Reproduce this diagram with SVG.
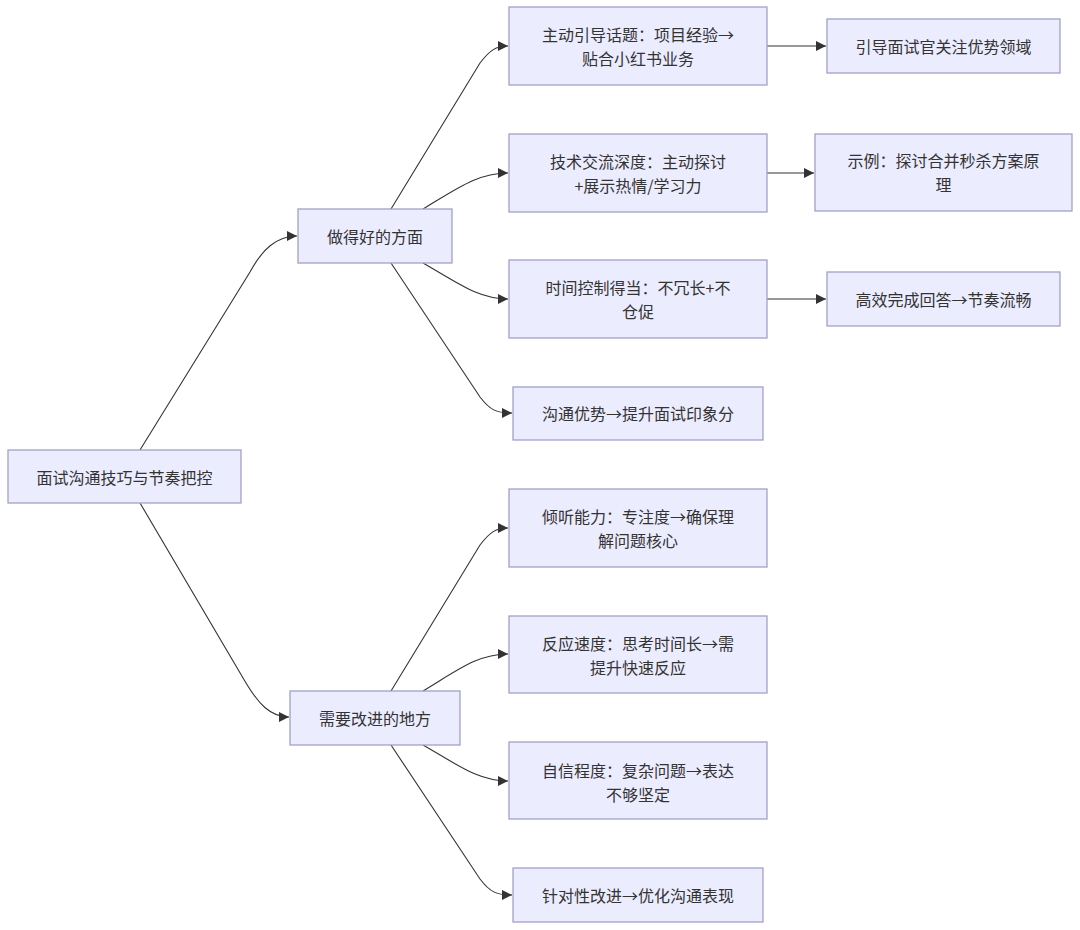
<svg xmlns="http://www.w3.org/2000/svg" width="1080" height="930" viewBox="0 0 1080 930">
<style>
.n rect{fill:#ECECFF;stroke:#a3a0c8;stroke-width:1.3}
.n text{font-family:"Noto Sans CJK SC","Noto Sans",sans-serif;font-size:16px;fill:#333;text-anchor:middle;dominant-baseline:central}
.e path{fill:none;stroke:#333;stroke-width:1.1;marker-end:url(#ah)}
</style>
<defs>
<marker id="ah" viewBox="0 0 10 10" refX="10" refY="5" markerWidth="10" markerHeight="10" markerUnits="userSpaceOnUse" orient="auto">
<path d="M0,0 L10,5 L0,10 z" fill="#333"/>
</marker>
</defs>
<rect width="1080" height="930" fill="#fff"/>
<g class="e">
<path d="M140,450 L250,272 C262,250 276,236 297,236"/>
<path d="M140,503 L246,683 C258,703 270,717 289,717"/>
<path d="M391,209 L480,63 C490,50 496,46 508,46"/>
<path d="M423,209 C458,188 478,173 508,173"/>
<path d="M423,263 C458,283 478,299 508,299"/>
<path d="M391,263 L480,397 C490,410 496,413 512,413"/>
<path d="M391,691 L480,545 C490,532 496,528 508,528"/>
<path d="M423,691 C458,670 478,654 508,654"/>
<path d="M423,745 C458,765 478,781 508,781"/>
<path d="M391,745 L480,879 C490,892 496,895 512,895"/>
<path d="M767,46 L826,46"/>
<path d="M767,173 L814,173"/>
<path d="M767,299 L826,299"/>
</g>
<g id="root" class="n"><rect x="8" y="450" width="233" height="53"/><text x="124.5" y="477">面试沟通技巧与节奏把控</text></g>
<g id="good" class="n"><rect x="298" y="209" width="154" height="54"/><text x="375" y="236">做得好的方面</text></g>
<g id="improve" class="n"><rect x="290" y="691" width="170" height="54"/><text x="375" y="718">需要改进的地方</text></g>
<g id="g1" class="n"><rect x="509" y="7" width="258" height="78"/><text x="638" y="34">主动引导话题：项目经验→</text><text x="638" y="58">贴合小红书业务</text></g>
<g id="g2" class="n"><rect x="509" y="134" width="258" height="78"/><text x="638" y="161">技术交流深度：主动探讨</text><text x="638" y="185">+展示热情/学习力</text></g>
<g id="g3" class="n"><rect x="509" y="260" width="258" height="78"/><text x="638" y="287">时间控制得当：不冗长+不</text><text x="638" y="311">仓促</text></g>
<g id="g4" class="n"><rect x="513" y="387" width="250" height="53"/><text x="638" y="413">沟通优势→提升面试印象分</text></g>
<g id="g1a" class="n"><rect x="827" y="19" width="233" height="54"/><text x="943.5" y="46">引导面试官关注优势领域</text></g>
<g id="g2a" class="n"><rect x="815" y="134" width="257" height="77"/><text x="943.5" y="160">示例：探讨合并秒杀方案原</text><text x="943.5" y="184">理</text></g>
<g id="g3a" class="n"><rect x="827" y="272" width="233" height="54"/><text x="943.5" y="299">高效完成回答→节奏流畅</text></g>
<g id="i1" class="n"><rect x="509" y="489" width="258" height="78"/><text x="638" y="516">倾听能力：专注度→确保理</text><text x="638" y="540">解问题核心</text></g>
<g id="i2" class="n"><rect x="509" y="616" width="258" height="77"/><text x="638" y="643">反应速度：思考时间长→需</text><text x="638" y="667">提升快速反应</text></g>
<g id="i3" class="n"><rect x="509" y="742" width="258" height="77"/><text x="638" y="770">自信程度：复杂问题→表达</text><text x="638" y="794">不够坚定</text></g>
<g id="i4" class="n"><rect x="513" y="868" width="250" height="54"/><text x="638" y="895">针对性改进→优化沟通表现</text></g>
</svg>
